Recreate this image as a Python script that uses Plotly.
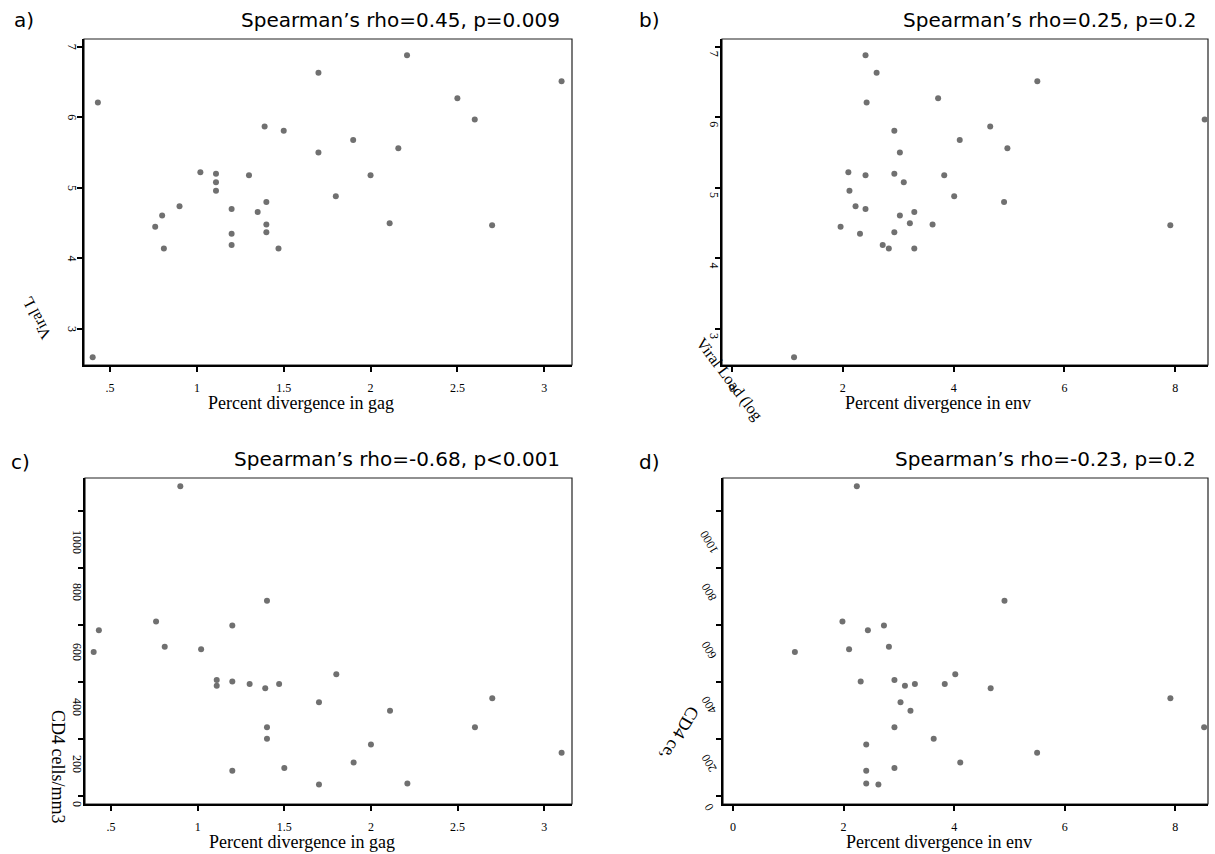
import plotly.graph_objects as go

W, H = 1215, 854

# ---------------- data ----------------
gag_a = [0.43, 0.40, 1.70, 2.21, 3.10, 2.50, 2.60, 1.39, 1.50, 1.90, 1.70, 2.16, 1.02,
         1.11, 1.11, 1.11, 1.30, 2.00, 1.80, 0.90, 1.20, 1.35, 1.40, 0.80, 0.76, 1.40,
         1.40, 1.20, 1.20, 0.81, 1.47, 2.11, 2.70]
vl_a = [6.21, 2.60, 6.63, 6.88, 6.51, 6.27, 5.97, 5.87, 5.81, 5.68, 5.50, 5.56, 5.22,
        5.20, 5.08, 4.96, 5.18, 5.18, 4.88, 4.74, 4.70, 4.66, 4.80, 4.61, 4.45, 4.48,
        4.37, 4.35, 4.19, 4.14, 4.14, 4.50, 4.47]

env_b = [2.41, 2.61, 2.43, 5.51, 3.72, 8.53, 2.93, 4.66, 4.11, 4.97, 3.03, 2.10, 2.41,
         2.93, 3.83, 3.10, 2.12, 4.01, 2.23, 2.41, 4.91, 3.03, 3.29, 3.21, 3.62, 1.96,
         2.31, 2.93, 2.72, 2.83, 3.29, 7.91, 1.12]
vl_b = [6.88, 6.63, 6.21, 6.51, 6.27, 5.97, 5.81, 5.87, 5.68, 5.56, 5.50, 5.22, 5.18,
        5.20, 5.18, 5.08, 4.96, 4.88, 4.74, 4.70, 4.80, 4.61, 4.66, 4.50, 4.48, 4.45,
        4.35, 4.37, 4.19, 4.14, 4.14, 4.47, 2.60]

gag_c = [0.90, 1.40, 0.76, 0.43, 1.20, 0.81, 1.02, 0.40, 1.11, 1.11, 1.20, 1.30, 1.39,
         1.47, 1.80, 1.70, 2.11, 2.70, 1.40, 1.40, 2.60, 2.00, 3.10, 1.90, 1.50, 1.20,
         1.70, 2.21]
cd4_c = [1087, 685, 612, 582, 598, 524, 515, 505, 407, 387, 402, 393, 378, 393, 427,
         329, 299, 343, 241, 201, 241, 181, 152, 118, 98, 89, 40, 44]

env_d = [2.24, 4.91, 1.98, 2.44, 2.73, 2.82, 2.10, 1.12, 2.31, 2.92, 3.11, 3.29, 3.83,
         4.66, 4.02, 3.03, 3.21, 7.91, 2.92, 8.52, 3.63, 2.41, 5.50, 4.11, 2.92, 2.41,
         2.41, 2.63]
cd4_d = [1087, 685, 612, 582, 598, 524, 515, 505, 402, 407, 387, 393, 393, 378, 427,
         329, 299, 343, 241, 241, 201, 181, 152, 118, 98, 89, 44, 40]

gag_tickvals = [0.5, 1, 1.5, 2, 2.5, 3]
gag_ticktext = [".5", "1", "1.5", "2", "2.5", "3"]
env_tickvals = [0, 2, 4, 6, 8]
env_ticktext = ["0", "2", "4", "6", "8"]
vl_tickvals = [3, 4, 5, 6, 7]
vl_ticktext = ["3", "4", "5", "6", "7"]
cd4_tickvals = [0, 200, 400, 600, 800, 1000]
cd4_ticktext = ["0", "200", "400", "600", "800", "1000"]

titles = ["Spearman’s rho=0.45, p=0.009", "Spearman’s rho=0.25, p=0.2",
          "Spearman’s rho=-0.68, p&lt;0.001", "Spearman’s rho=-0.23, p=0.2"]
letters = ["a)", "b)", "c)", "d)"]
xtitles = ["Percent divergence in gag", "Percent divergence in env",
           "Percent divergence in gag", "Percent divergence in env"]
ytitles = ["Viral L", "Viral Load (log", "CD4 cells/mm3", "CD4 ce,"]

# ---------------- style / layout ----------------
GRAY = "#707070"
SERIF = "Liberation Serif"
SANS = "DejaVu Sans"

panels = [
    dict(x=gag_a, y=vl_a, px=(84, 572), py=(39, 365), xr=[0.35, 3.16], yr=[2.49, 7.11],
         xt=(gag_tickvals, gag_ticktext), yt=(vl_tickvals, vl_ticktext),
         ylab_angle=90, ylab_dx=-12, ylab_dy=[0, 0, 0, 0, 0],
         ytit=(36, 318, -117, 16), letter=(24, 20)),
    dict(x=env_b, y=vl_b, px=(722, 1208), py=(39, 365), xr=[-0.18, 8.59], yr=[2.49, 7.11],
         xt=(env_tickvals, env_ticktext), yt=(vl_tickvals, vl_ticktext),
         ylab_angle=90, ylab_dx=-8, ylab_dy=[-7, -7, -7, -7, -7],
         ytit=(729, 379, 53, 16), letter=(649, 20)),
    dict(x=gag_c, y=cd4_c, px=(85, 572), py=(478, 804), xr=[0.35, 3.16], yr=[-28, 1116],
         xt=(gag_tickvals, gag_ticktext), yt=(cd4_tickvals, cd4_ticktext),
         ylab_angle=90, ylab_dx=-8, ylab_dy=[-8, -25, -25, -27, -24, -31],
         ytit=(58, 767, 90, 18), letter=(20, 462)),
    dict(x=env_d, y=cd4_d, px=(723, 1208), py=(478, 804), xr=[-0.18, 8.59], yr=[-28, 1116],
         xt=(env_tickvals, env_ticktext), yt=(cd4_tickvals, cd4_ticktext),
         ylab_angle=-120, ylab_dx=-14, ylab_dy=[-11, -24, -23, -25, -24, -31],
         ytit=(680, 733, 120, 18), letter=(649, 462)),
]

fig = go.Figure()
annotations = []
shapes = []
layout_axes = {}

for i, p in enumerate(panels):
    n = "" if i == 0 else str(i + 1)
    xa, ya = "x" + n, "y" + n
    fig.add_trace(go.Scatter(x=p["x"], y=p["y"], mode="markers", xaxis=xa, yaxis=ya,
                             marker=dict(size=6, color=GRAY), showlegend=False,
                             hoverinfo="skip"))
    common = dict(showline=True, linewidth=2, linecolor="black", ticks="outside",
                  ticklen=5, tickwidth=2, tickcolor="black", showgrid=False,
                  zeroline=False, mirror=False)
    layout_axes["xaxis" + n] = dict(domain=[p["px"][0] / W, p["px"][1] / W], range=p["xr"],
                                    anchor=ya, tickmode="array", tickvals=p["xt"][0],
                                    ticktext=p["xt"][1],
                                    tickfont=dict(family=SERIF, size=12, color="black"),
                                    ticklabelstandoff=6, **common)
    layout_axes["yaxis" + n] = dict(domain=[1 - p["py"][1] / H, 1 - p["py"][0] / H],
                                    range=p["yr"], anchor=xa, tickmode="array",
                                    tickvals=p["yt"][0], showticklabels=False, **common)
    # thin box on top/right
    shapes.append(dict(type="rect", xref=xa + " domain", yref=ya + " domain",
                       x0=0, x1=1, y0=0, y1=1, line=dict(color="#222222", width=1.2),
                       layer="below"))
    # y tick labels (rotated, as in the reference)
    for v, t, dy in zip(p["yt"][0], p["yt"][1], p["ylab_dy"]):
        annotations.append(dict(text=t, xref=xa + " domain", yref=ya, x=0, y=v,
                                xshift=p["ylab_dx"], yshift=dy, showarrow=False,
                                textangle=p["ylab_angle"], xanchor="center",
                                yanchor="middle",
                                font=dict(family=SERIF, size=12, color="black")))
    # x title
    annotations.append(dict(text=xtitles[i], xref=xa + " domain", yref=ya + " domain",
                            x=0.5, y=0, xshift=-27, yshift=-38, showarrow=False,
                            xanchor="center", yanchor="middle",
                            font=dict(family=SERIF, size=18, color="black")))
    # y title
    cx, cy, ang, sz = p["ytit"]
    annotations.append(dict(text=ytitles[i], xref="paper", yref="paper", x=cx / W,
                            y=1 - cy / H, showarrow=False, textangle=ang,
                            xanchor="center", yanchor="middle",
                            font=dict(family=SERIF, size=sz, color="black")))
    # panel title
    annotations.append(dict(text=titles[i], xref=xa + " domain", yref=ya + " domain",
                            x=1, y=1, xshift=-10, yshift=19, showarrow=False,
                            xanchor="right", yanchor="middle",
                            font=dict(family=SANS, size=20, color="black")))
    # panel letter
    lx, ly = p["letter"]
    annotations.append(dict(text=letters[i], xref="paper", yref="paper", x=lx / W,
                            y=1 - ly / H, showarrow=False, xanchor="center",
                            yanchor="middle",
                            font=dict(family=SANS, size=20, color="black")))

fig.update_layout(width=W, height=H, margin=dict(l=0, r=0, t=0, b=0),
                  paper_bgcolor="white", plot_bgcolor="white",
                  annotations=annotations, shapes=shapes, **layout_axes)

fig.write_html("out.html", config={"displayModeBar": False},
               post_script="document.body.style.margin='0';")
